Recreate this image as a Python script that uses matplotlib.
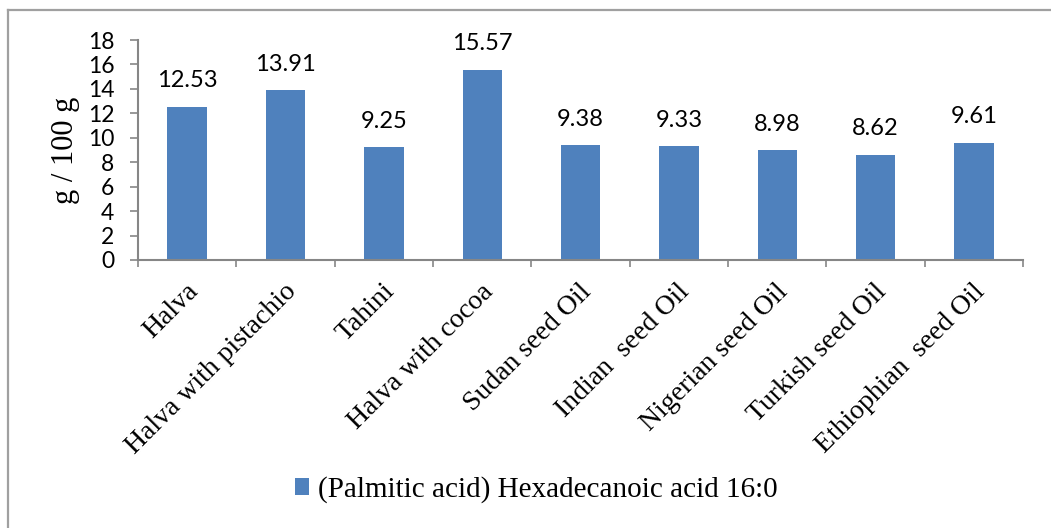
import matplotlib
matplotlib.use("Agg")
import matplotlib.pyplot as plt
import numpy as np
from matplotlib.lines import Line2D

categories = [
    "Halva",
    "Halva with pistachio",
    "Tahini",
    "Halva with cocoa",
    "Sudan seed Oil",
    "Indian  seed Oil",
    "Nigerian seed Oil",
    "Turkish seed Oil",
    "Ethiophian  seed Oil",
]
palmitic = [12.53, 13.91, 9.25, 15.57, 9.38, 9.33, 8.98, 8.62, 9.61]
y_ticks = [0, 2, 4, 6, 8, 10, 12, 14, 16, 18]
series_name = "(Palmitic acid) Hexadecanoic acid 16:0"

BAR = "#4F81BD"
AXIS = "#868686"
SERIF = "Liberation Serif"
SANS = "Lato"

fig = plt.figure(figsize=(10.51, 5.28), dpi=100)
ax = fig.add_axes([0.1313, 0.5076, 0.8421, 0.4166])

x = np.arange(len(categories))
bars = ax.bar(x, palmitic, width=0.40, color=BAR, label=series_name)

for xi, v in zip(x, palmitic):
    ax.annotate(f"{v:.2f}", (xi, v), xytext=(0, 14), textcoords="offset points",
                ha="center", va="baseline", fontsize=17, family=SANS)

ax.set_xlim(-0.5, len(categories) - 0.5)
ax.set_ylim(0, 18)
ax.set_yticks(y_ticks)
ax.tick_params(axis="y", direction="out", length=6, width=1.2, color=AXIS, pad=11,
               labelsize=16.5, labelfontfamily=SANS)

# category ticks sit on the boundaries, labels at the centres
ax.set_xticks(np.arange(len(categories) + 1) - 0.5)
ax.set_xticklabels([])
ax.tick_params(axis="x", direction="out", length=5, width=1.2, color=AXIS)
for xi, name in zip(x, categories):
    ax.annotate(name, (xi, 0), xytext=(5, -20), textcoords="offset points",
                rotation=45, rotation_mode="anchor", ha="right", va="center",
                fontsize=20, family=SERIF)

for side in ("top", "right"):
    ax.spines[side].set_visible(False)
for side in ("left", "bottom"):
    ax.spines[side].set_color(AXIS)
    ax.spines[side].set_linewidth(1.5)

ax.set_ylabel("g / 100 g", family=SERIF, fontsize=22)
ax.yaxis.set_label_coords(-0.066, 0.5)

fig.legend(handles=[bars], labels=[series_name], loc="center",
           bbox_to_anchor=(0.51, 0.072), frameon=False,
           prop={"family": SERIF, "size": 21},
           handlelength=0.5, handleheight=0.5, handletextpad=0.3)

# chart area border (top and left edges only)
fig.add_artist(Line2D([8 / 1051, 1.0], [1 - 10 / 528] * 2, color="#A0A0A0", lw=1.6))
fig.add_artist(Line2D([8 / 1051] * 2, [0.0, 1 - 10 / 528], color="#A0A0A0", lw=1.6))

fig.savefig("out.png", dpi=100, facecolor="white")
